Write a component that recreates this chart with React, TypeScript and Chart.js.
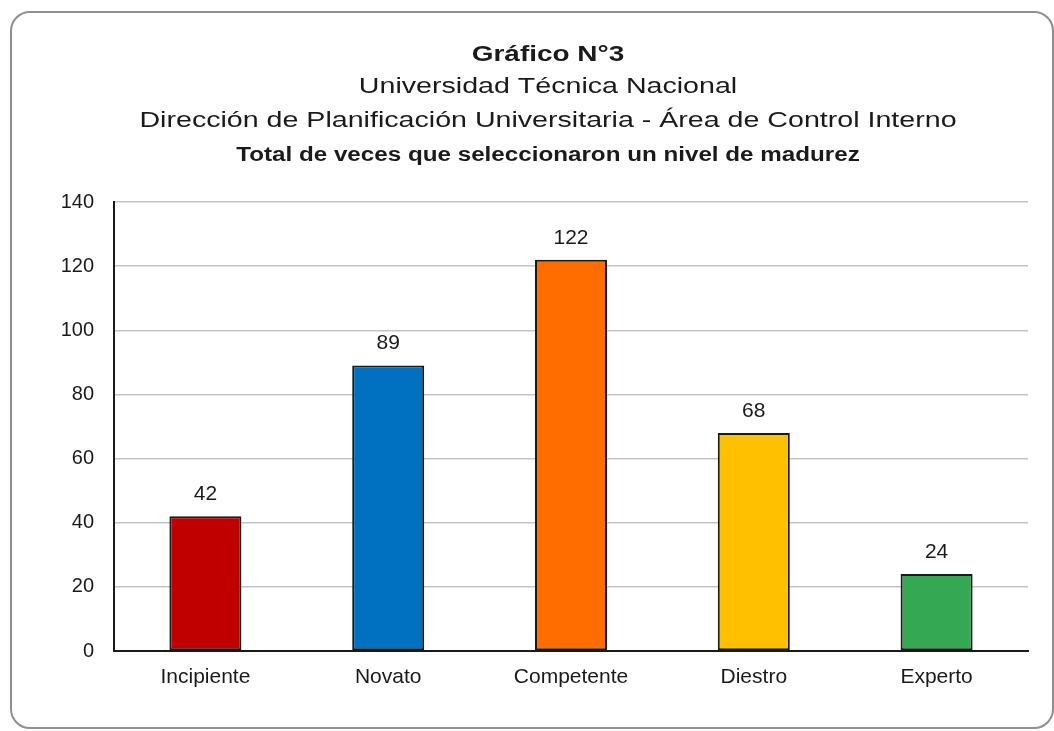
import React, { useEffect, useRef } from "react";
import { Chart, registerables } from "chart.js";

Chart.register(...registerables);

// ---- data ----
const titleLines = [
  "Gráfico N°3",
  "Universidad Técnica Nacional",
  "Dirección de Planificación Universitaria - Área de Control Interno",
  "Total de veces que seleccionaron un nivel de madurez",
];
const categories = ["Incipiente", "Novato", "Competente", "Diestro", "Experto"];
const counts = [42, 89, 122, 68, 24];
const yTickValues = [0, 20, 40, 60, 80, 100, 120, 140];

// ---- styles ----
const barColors = ["#C00000", "#0070C0", "#FF6D00", "#FFC000", "#34A853"];
const FONT = '"Liberation Sans", Arial, Helvetica, sans-serif';
const titleStyles = [
  { weight: "bold", size: 22, y: 55, sx: 1.27 },
  { weight: "normal", size: 22, y: 87, sx: 1.3 },
  { weight: "normal", size: 22, y: 121, sx: 1.3 },
  { weight: "bold", size: 20, y: 155, sx: 1.21 },
];
const TITLE_CX = 548;

const titlePlugin = {
  id: "customTitle",
  afterDraw(chart: any) {
    const ctx = chart.ctx;
    titleLines.forEach((t, i) => {
      const s = titleStyles[i];
      ctx.save();
      ctx.translate(TITLE_CX, s.y);
      ctx.scale(s.sx, 1);
      ctx.font = `${s.weight} ${s.size}px ${FONT}`;
      ctx.fillStyle = "#1a1a1a";
      ctx.textAlign = "center";
      ctx.textBaseline = "middle";
      ctx.fillText(t, 0, 0);
      ctx.restore();
    });
  },
};

const valueLabelPlugin = {
  id: "valueLabels",
  afterDatasetsDraw(chart: any) {
    const ctx = chart.ctx;
    const meta = chart.getDatasetMeta(0);
    ctx.save();
    ctx.font = `normal 21px ${FONT}`;
    ctx.fillStyle = "#1a1a1a";
    ctx.textAlign = "center";
    ctx.textBaseline = "middle";
    meta.data.forEach((el: any, i: number) => {
      ctx.fillText(String(counts[i]), el.x, el.y - 22);
    });
    ctx.restore();
  },
};

export default function App() {
  const ref = useRef<HTMLCanvasElement | null>(null);

  useEffect(() => {
    if (!ref.current) return;
    const chart = new Chart(ref.current, {
      type: "bar",
      data: {
        labels: categories,
        datasets: [
          {
            data: counts,
            backgroundColor: barColors,
            borderColor: "#1a1a1a",
            borderWidth: 2,
            borderSkipped: false,
            categoryPercentage: 1,
            barPercentage: 0.394,
          },
        ],
      },
      options: {
        responsive: false,
        animation: false,
        devicePixelRatio: 1,
        layout: { padding: { top: 202, right: 26, bottom: 0, left: 0 } },
        plugins: {
          legend: { display: false },
          title: { display: false },
          tooltip: { enabled: false },
        },
        scales: {
          x: {
            grid: { display: false, drawTicks: false },
            border: { display: true, color: "#1a1a1a", width: 2 },
            ticks: {
              font: { family: FONT, size: 21 },
              color: "#1a1a1a",
              padding: 14,
              maxRotation: 0,
            },
            afterFit(scale: any) {
              scale.height = 80;
            },
          },
          y: {
            min: 0,
            max: 140,
            grid: { color: "#c4c4c4", lineWidth: 1.5, drawTicks: false },
            border: { display: true, color: "#1a1a1a", width: 2 },
            ticks: {
              font: { family: FONT, size: 20 },
              color: "#1a1a1a",
              padding: 20,
            },
            afterBuildTicks(scale: any) {
              scale.ticks = yTickValues.map((v) => ({ value: v }));
            },
            afterFit(scale: any) {
              scale.width = 114;
            },
          },
        },
      },
      plugins: [titlePlugin, valueLabelPlugin],
    });
    return () => chart.destroy();
  }, []);

  return (
    <div
      style={{
        position: "absolute",
        left: 0,
        top: 0,
        width: 1054,
        height: 731,
        background: "#fff",
      }}
    >
      <div
        style={{
          position: "absolute",
          left: 10,
          top: 11,
          width: 1040,
          height: 714,
          border: "2px solid #8f8f8f",
          borderRadius: 20,
          boxSizing: "content-box",
        }}
      />
      <canvas
        ref={ref}
        width={1054}
        height={731}
        style={{ position: "absolute", left: 0, top: 0, width: 1054, height: 731 }}
      />
    </div>
  );
}
